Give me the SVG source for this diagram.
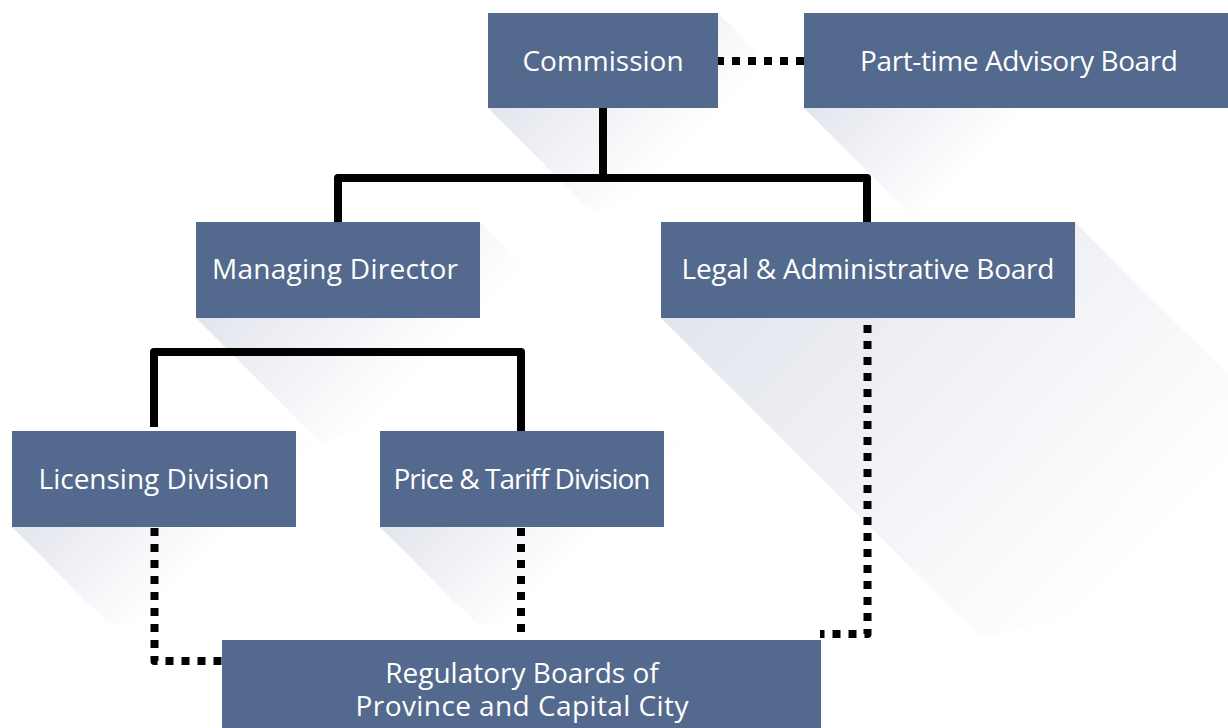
<svg xmlns="http://www.w3.org/2000/svg" width="1228" height="728" viewBox="0 0 1228 728">
  <style>
    .box { fill: #53698d; }
    .label { fill: #ffffff; font-family: "Open Sans", "Liberation Sans", sans-serif; font-size: 28px; text-anchor: middle; }
    .solid { fill: none; stroke: #000000; stroke-width: 8; stroke-linejoin: round; }
    .dotted { fill: none; stroke: #000000; stroke-width: 8; stroke-dasharray: 8 8; stroke-linejoin: round; }
  </style>
  <defs>
    <!-- long-shadow fades, each running from the box corner down-right along 45 degrees -->
    <linearGradient id="sh-commission" gradientUnits="userSpaceOnUse" x1="488" y1="108" x2="605" y2="225">
      <stop offset="0" stop-color="#e2e5ed"/>
      <stop offset="1" stop-color="#e2e5ed" stop-opacity="0"/>
    </linearGradient>
    <linearGradient id="sh-parttime" gradientUnits="userSpaceOnUse" x1="804" y1="108" x2="918" y2="222">
      <stop offset="0" stop-color="#e2e5ed"/>
      <stop offset="1" stop-color="#e2e5ed" stop-opacity="0"/>
    </linearGradient>
    <linearGradient id="sh-md" gradientUnits="userSpaceOnUse" x1="196" y1="318" x2="336" y2="458">
      <stop offset="0" stop-color="#e2e5ed"/>
      <stop offset="1" stop-color="#e2e5ed" stop-opacity="0"/>
    </linearGradient>
    <linearGradient id="sh-legal" gradientUnits="userSpaceOnUse" x1="661" y1="318" x2="1021" y2="678">
      <stop offset="0" stop-color="#e2e5ed"/>
      <stop offset="1" stop-color="#e2e5ed" stop-opacity="0"/>
    </linearGradient>
    <linearGradient id="sh-licensing" gradientUnits="userSpaceOnUse" x1="12" y1="527" x2="124" y2="639">
      <stop offset="0" stop-color="#e2e5ed"/>
      <stop offset="1" stop-color="#e2e5ed" stop-opacity="0"/>
    </linearGradient>
    <linearGradient id="sh-price" gradientUnits="userSpaceOnUse" x1="380" y1="527" x2="492" y2="639">
      <stop offset="0" stop-color="#e2e5ed"/>
      <stop offset="1" stop-color="#e2e5ed" stop-opacity="0"/>
    </linearGradient>
  </defs>

  <rect width="1228" height="728" fill="#ffffff"/>

  <g id="node-commission">
    <polygon points="488,108 718,13 823,118 593,213" fill="url(#sh-commission)"/>
    <rect class="box" x="488" y="13" width="230" height="95"/>
    <text class="label" x="603" y="71">Commission</text>
  </g>

  <g id="node-parttime-advisory-board">
    <polygon points="804,108 1228,13 1338,123 914,218" fill="url(#sh-parttime)"/>
    <rect class="box" x="804" y="13" width="424" height="95"/>
    <text class="label" x="1019" y="71" textLength="318">Part-time Advisory Board</text>
  </g>

  <g id="node-managing-director">
    <polygon points="196,318 480,222 605,347 321,443" fill="url(#sh-md)"/>
    <rect class="box" x="196" y="222" width="284" height="96"/>
    <text class="label" x="335" y="279" textLength="246">Managing Director</text>
  </g>

  <g id="node-legal-admin-board">
    <polygon points="661,318 1075,222 1395,542 981,638" fill="url(#sh-legal)"/>
    <rect class="box" x="661" y="222" width="414" height="96"/>
    <text class="label" x="868" y="279" textLength="373">Legal &amp; Administrative Board</text>
  </g>

  <g id="node-licensing-division">
    <polygon points="12,527 296,431 396,531 112,627" fill="url(#sh-licensing)"/>
    <rect class="box" x="12" y="431" width="284" height="96"/>
    <text class="label" x="154" y="489">Licensing Division</text>
  </g>

  <g id="node-price-tariff-division">
    <polygon points="380,527 664,431 764,531 480,627" fill="url(#sh-price)"/>
    <rect class="box" x="380" y="431" width="284" height="96"/>
    <text class="label" x="522" y="489" textLength="257">Price &amp; Tariff Division</text>
  </g>

  <g id="node-regulatory-boards">
    <rect class="box" x="222" y="640" width="599" height="88"/>
    <text class="label" x="522" y="683">Regulatory Boards of</text>
    <text class="label" x="522" y="716" textLength="333">Province and Capital City</text>
  </g>

  <g id="connectors">
    <!-- reporting lines -->
    <path class="solid" d="M603,108 V178"/>
    <path class="solid" d="M338,222 V178 H867 V222"/>
    <path class="solid" d="M154,427 V352 H521 V431"/>
    <!-- advisory / coordination links -->
    <path class="dotted" d="M804,61 H718"/>
    <path class="dotted" d="M154.5,528 V661 H222"/>
    <path class="dotted" d="M521,528 V632"/>
    <path class="dotted" style="stroke-dashoffset:9" d="M867.5,318 V634 H820"/>
  </g>
</svg>
